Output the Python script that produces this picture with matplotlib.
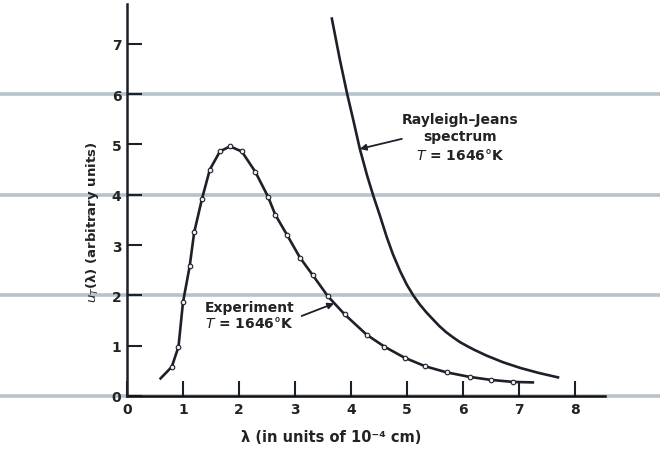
import matplotlib
matplotlib.use("Agg")
import matplotlib.pyplot as plt

# ---- data ----
lam_exp = [0.60, 0.80, 0.92, 1.00, 1.12, 1.20, 1.34, 1.48, 1.66, 1.84, 2.05, 2.29,
           2.52, 2.65, 2.86, 3.09, 3.32, 3.59, 3.89, 4.28, 4.60, 4.96, 5.33, 5.71,
           6.12, 6.50, 6.90, 7.25]
u_exp = [0.35, 0.58, 0.98, 1.86, 2.58, 3.25, 3.92, 4.50, 4.86, 4.96, 4.86, 4.46,
         3.96, 3.60, 3.20, 2.75, 2.40, 1.98, 1.62, 1.22, 0.98, 0.76, 0.59, 0.47,
         0.38, 0.32, 0.28, 0.27]

lam_rj = [3.66, 3.80, 3.93, 4.05, 4.16, 4.29, 4.40, 4.52, 4.64, 4.75, 4.88, 5.00,
          5.12, 5.23, 5.35, 5.46, 5.58, 5.70, 5.82, 5.95, 6.08, 6.20, 6.43, 6.72,
          7.02, 7.35, 7.70]
u_rj = [7.50, 6.70, 6.02, 5.45, 4.91, 4.38, 3.98, 3.58, 3.16, 2.82, 2.48, 2.21,
        1.99, 1.82, 1.66, 1.53, 1.39, 1.27, 1.17, 1.07, 0.99, 0.92, 0.80, 0.67,
        0.56, 0.46, 0.37]

x_ticks = [0, 1, 2, 3, 4, 5, 6, 7, 8]
y_ticks = [0, 1, 2, 3, 4, 5, 6, 7]
band_levels = [0, 2, 4, 6]

ink = "#1b2029"
txt = "#232323"
band = "#b5c3cc"
font = ["DejaVu Sans"]

fig = plt.figure(figsize=(6.6, 4.52), dpi=100)
fig.patch.set_facecolor("white")
ax = fig.add_axes([127 / 660, 1 - 397 / 452, 478 / 660, 392 / 452])
ax.set_xlim(0, 8.54)
ax.set_ylim(0, 7.79)

# ruled scan lines
for lv in band_levels:
    ax.axhline(lv, xmin=-0.27, xmax=1.12, color=band, lw=2.6, zorder=0,
               clip_on=False)

# curves
ax.plot(lam_exp, u_exp, color=ink, lw=1.9, zorder=3,
        marker="o", markersize=3.3, markerfacecolor="#f4efe9",
        markeredgecolor=ink, markeredgewidth=0.8,
        markevery=list(range(1, len(lam_exp) - 1)))
ax.plot(lam_rj, u_rj, color=ink, lw=1.9, zorder=3, solid_joinstyle="round")

# spines / ticks
for s in ["top", "right"]:
    ax.spines[s].set_visible(False)
ax.spines["left"].set_color(ink)
ax.spines["left"].set_linewidth(1.8)
ax.spines["bottom"].set_color("#111111")
ax.spines["bottom"].set_linewidth(1.8)
ax.spines["bottom"].set_zorder(2)

ax.set_xticks(x_ticks)
ax.set_yticks(y_ticks)
ax.set_xticklabels([str(v) for v in x_ticks], fontfamily=font,
                   fontweight="bold", fontsize=10, color=txt)
ax.set_yticklabels([str(v) for v in y_ticks], fontfamily=font,
                   fontweight="bold", fontsize=10, color=txt)
ax.tick_params(axis="both", direction="in", length=11, width=1.5, color=ink)
ax.tick_params(axis="y", pad=4)
ax.tick_params(axis="x", pad=4)
ax.set_facecolor("none")

# labels
ax.text(-0.625, 3.48, r"$u_T$(λ) (arbitrary units)", rotation=90,
        ha="center", va="center", fontsize=9.5, fontfamily=font,
        fontweight="bold", color=txt)
ax.text(3.64, -0.80, "λ (in units of 10⁻⁴ cm)", ha="center",
        va="center", fontsize=10.5, fontfamily=font, fontweight="bold",
        color=txt)

# annotations
ax.text(5.95, 5.15, "Rayleigh–Jeans\nspectrum\n$T$ = 1646°K", ha="center",
        va="center", fontsize=10, fontfamily=font, fontweight="bold",
        color=txt, linespacing=1.3)
ax.annotate("", xy=(4.16, 4.91), xytext=(4.91, 5.11),
            arrowprops=dict(arrowstyle="-|>", color=ink, lw=1.3,
                            shrinkA=0, shrinkB=0, mutation_scale=9))
ax.text(1.39, 1.61, "Experiment\n$T$ = 1646°K", ha="left", va="center",
        fontsize=10, fontfamily=font, fontweight="bold", color=txt,
        linespacing=1.15)
ax.annotate("", xy=(3.70, 1.84), xytext=(3.12, 1.59),
            arrowprops=dict(arrowstyle="-|>", color=ink, lw=1.3,
                            shrinkA=0, shrinkB=0, mutation_scale=9))

fig.savefig("out.png", dpi=100, facecolor="white")
